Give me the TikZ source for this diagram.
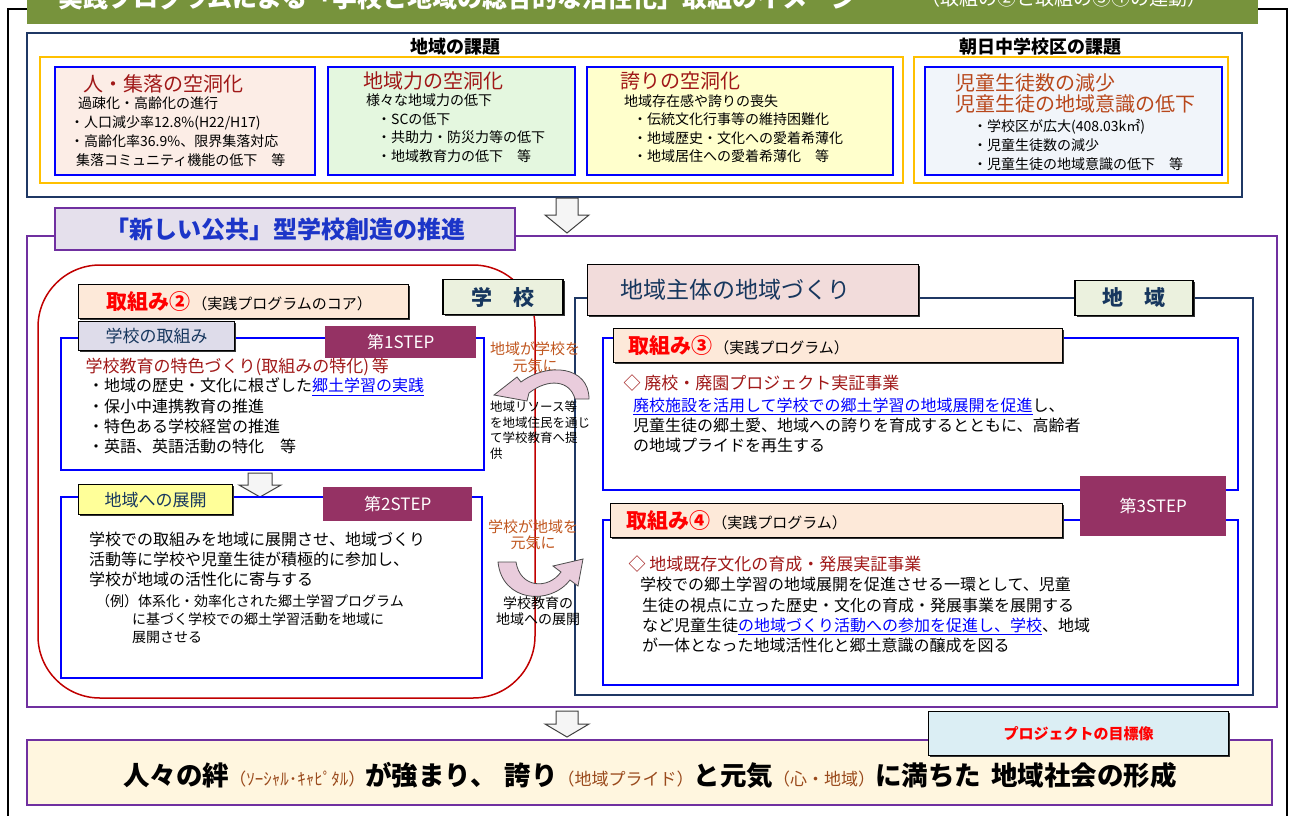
\documentclass[tikz,border=0pt]{standalone}
\usepackage{fontspec}
\setmainfont{Noto Sans CJK JP}
\usetikzlibrary{shadows}

\definecolor{olivegreen}{HTML}{77933C}
\definecolor{navyline}{HTML}{1F3864}
\definecolor{goldline}{HTML}{FFC000}
\definecolor{pinkbg}{HTML}{FCEDE6}
\definecolor{mintbg}{HTML}{E4F7DF}
\definecolor{creambg}{HTML}{FFFFCC}
\definecolor{icebg}{HTML}{F1F5FA}
\definecolor{kadaired}{HTML}{A01818}
\definecolor{kadaibrown}{HTML}{B8471B}
\definecolor{suishinpurple}{HTML}{7030A0}
\definecolor{lavbg}{HTML}{E5E0EC}
\definecolor{lavtab}{HTML}{DEDCEA}
\definecolor{suishinblue}{HTML}{1C35C8}
\definecolor{roundred}{HTML}{C00000}
\definecolor{peachbg}{HTML}{FDE9D9}
\definecolor{sagebg}{HTML}{EBF1DE}
\definecolor{tabnavy}{HTML}{17375E}
\definecolor{yellowtab}{HTML}{FFFF99}
\definecolor{stepmaroon}{HTML}{953264}
\definecolor{genkibrown}{HTML}{C0561E}
\definecolor{rosebg}{HTML}{F2DCDB}
\definecolor{skybg}{HTML}{DBEEF4}
\definecolor{goalbg}{HTML}{FFF6DF}
\definecolor{goalbrown}{HTML}{9A4A1C}
\definecolor{arrowpink}{HTML}{E9CCDC}
\definecolor{linkblue}{HTML}{0000FF}

\newcommand{\kumititle}[1]{{\color{red}\bfseries\fontsize{21}{21}\selectfont #1}}
\newcommand{\ulink}[1]{{\color{linkblue}\underline{#1}}}
\newcommand{\goalnote}[1]{{\mdseries\color{goalbrown}\fontsize{17}{17}\selectfont #1}}
\newcommand{\blkarrow}[6]{%
  \filldraw[fill=gray!8, draw=black!75, line width=1pt]
    (#1-#5,#2) -- (#1+#5,#2) -- (#1+#5,#3) -- (#1+#6,#3) -- (#1,#4)
    -- (#1-#6,#3) -- (#1-#5,#3) -- cycle;}

\tikzset{
  kadaibox/.style={draw=blue, line width=1.6pt},
  kadaititle/.style={anchor=west, text=kadaired, font=\fontsize{20}{20}\selectfont},
  kadaitext/.style={anchor=north west, align=left, inner sep=0pt},
  tabbox/.style={draw=black, line width=1.2pt, inner sep=0pt,
    drop shadow={shadow xshift=1.5pt, shadow yshift=-1.5pt, fill=black!80, opacity=1}},
  stepbox/.style={fill=stepmaroon, text=white, inner sep=0pt, font=\fontsize{17}{17}\selectfont},
  genkitext/.style={text=genkibrown, font=\fontsize{15}{15}\selectfont},
  bluebox/.style={draw=blue, line width=1.6pt, fill=white}
}

\begin{document}
\begin{tikzpicture}[x=1pt,y=-1pt]
\useasboundingbox (0,0) rectangle (1290,816);
\clip (0,0) rectangle (1290,816);

\draw[line width=1.2pt] (8,820) -- (8,9) -- (30,9);
\draw[line width=1.2pt] (1255,9) -- (1287,9) -- (1287,820);
\fill[olivegreen] (27,-10) rectangle (1258,24);
\node[anchor=base west, text=white, font=\bfseries\fontsize{25}{25}\selectfont] (title)
  at (55,8) {実践プログラムによる「学校と地域の総合的な活性化」取組のイメージ};
\node[anchor=base west, text=white, font=\fontsize{19}{19}\selectfont] (subtitle)
  at (918,6) {（取組の②と取組の③④の連動）};

\draw[navyline, line width=2pt] (27,33) rectangle (1242,197);
\draw[goldline, line width=1.6pt] (40,57) rectangle (903,183);
\node[font=\bfseries\fontsize{18}{18}\selectfont] (chiikiKadai) at (455,47) {地域の課題};

\filldraw[kadaibox, fill=pinkbg] (55,67) rectangle (315,175);
\node[kadaititle] (hito) at (80,84) {人・集落の空洞化};
\node[kadaitext, font=\fontsize{14}{19}\selectfont] (hitoText) at (70,97)
  {\hspace*{8pt}過疎化・高齢化の進行\\・人口減少率12.8\%(H22/H17)\\・高齢化率36.9\%、限界集落対応\\\hspace*{6pt}集落コミュニティ機能の低下　等};

\filldraw[kadaibox, fill=mintbg] (328,67) rectangle (575,175);
\node[kadaititle] (chiikiryoku) at (360,81) {地域力の空洞化};
\node[kadaitext, font=\fontsize{14}{18.5}\selectfont] (chiikiryokuText) at (366,94)
  {様々な地域力の低下\\\hspace*{11pt}・SCの低下\\\hspace*{11pt}・共助力・防災力等の低下\\\hspace*{11pt}・地域教育力の低下　等};

\filldraw[kadaibox, fill=creambg] (587,67) rectangle (893,175);
\node[kadaititle] (hokori) at (617,81) {誇りの空洞化};
\node[kadaitext, font=\fontsize{14}{18.5}\selectfont] (hokoriText) at (624,94)
  {地域存在感や誇りの喪失\\\hspace*{9pt}・伝統文化行事等の維持困難化\\\hspace*{9pt}・地域歴史・文化への愛着希薄化\\\hspace*{9pt}・地域居住への愛着希薄化　等};

\draw[goldline, line width=1.6pt] (914,57) rectangle (1228,183);
\node[font=\bfseries\fontsize{18}{18}\selectfont] (asahiKadai) at (1040,47) {朝日中学校区の課題};
\filldraw[kadaibox, fill=icebg] (925,67) rectangle (1222,175);
\node[kadaitext, text=kadaibrown, font=\fontsize{20}{21}\selectfont] (jidou) at (955,73)
  {児童生徒数の減少\\児童生徒の地域意識の低下};
\node[kadaitext, font=\fontsize{14}{19}\selectfont] (jidouText) at (973,119)
  {・学校区が広大(408.03k㎡)\\・児童生徒数の減少\\・児童生徒の地域意識の低下　等};

\blkarrow{567}{198}{215}{233}{11}{22}

\draw[suishinpurple, line width=1.6pt] (27,236) rectangle (1277,707);
\node[draw=suishinpurple, fill=lavbg, line width=1.6pt, minimum width=460, minimum height=42,
  text=suishinblue, font=\bfseries\fontsize{24}{24}\selectfont] (koukyou) at (285,229)
  {「新しい公共」型学校創造の推進};

\draw[roundred, line width=1.5pt, rounded corners=62pt] (38,265) rectangle (535,698);
\node[tabbox, fill=sagebg, minimum width=120, minimum height=35, text=tabnavy,
  font=\bfseries\fontsize{21}{21}\selectfont] (gakkou) at (503,297) {学　校};
\node[tabbox, fill=peachbg, anchor=north west, minimum height=34, text width=274,
  inner xsep=28pt, align=left] (kumi2) at (78,284)
  {\kumititle{取組み②}\,{\fontsize{15}{15}\selectfont（実践プログラムのコア）}};

\draw[bluebox] (61,338) rectangle (484,470);
\node[tabbox, fill=lavtab, anchor=north west, minimum width=156, minimum height=29,
  text=tabnavy, font=\fontsize{17}{17}\selectfont] (gakkouKumi) at (78,321) {学校の取組み};
\node[stepbox, anchor=north west, minimum width=151, minimum height=32] (step1) at (325,326) {第1STEP};
\node[anchor=west, text=kadaired, font=\fontsize{17}{17}\selectfont] (tokushoku) at (82,367)
  {学校教育の特色づくり(取組みの特化)\,等};
\node[kadaitext, font=\fontsize{16}{20.3}\selectfont] (gakkouText) at (88,378)
  {・地域の歴史・文化に根ざした\ulink{郷土学習の実践}\\・保小中連携教育の推進\\・特色ある学校経営の推進\\・英語、英語活動の特化　等};

\blkarrow{260}{473}{485}{497}{12}{21}

\draw[bluebox] (61,497) rectangle (482,678);
\node[tabbox, fill=yellowtab, anchor=north west, minimum width=154, minimum height=30,
  text=tabnavy, font=\fontsize{17}{17}\selectfont] (tenkai) at (78,484) {地域への展開};
\node[stepbox, anchor=north west, minimum width=149, minimum height=34] (step2) at (323,487) {第2STEP};
\node[kadaitext, font=\fontsize{16}{20}\selectfont] (tenkaiText) at (89,532)
  {学校での取組みを地域に展開させ、地域づくり\\活動等に学校や児童生徒が積極的に参加し、\\学校が地域の活性化に寄与する};
\node[kadaitext, font=\fontsize{14}{18}\selectfont] (reiText) at (96,594)
  {（例）体系化・効率化された郷土学習プログラム\\\hspace*{36pt}に基づく学校での郷土学習活動を地域に\\\hspace*{36pt}展開させる};

\draw[navyline, line width=1.6pt] (575,298) rectangle (1253,695);
\node[tabbox, fill=rosebg, anchor=north west, minimum height=51, text width=265,
  inner xsep=33pt, align=left, text=tabnavy, font=\fontsize{23}{23}\selectfont] (shutai)
  at (587,264) {地域主体の地域づくり};
\node[tabbox, fill=sagebg, minimum width=118, minimum height=35, text=tabnavy,
  font=\bfseries\fontsize{21}{21}\selectfont] (chiiki) at (1134,298) {地　域};

\node[genkitext] (genki1) at (535,349) {地域が学校を};
\node[genkitext] (genki1b) at (535,366) {元気に};
\filldraw[fill=arrowpink, draw=black!70, line width=0.8pt]
  (589,399) .. controls (589,366) and (548,362) .. (521,382) -- (517,377) -- (494,395)
  -- (527,401) -- (529,393) .. controls (548,378) and (570,380) .. (575,399) -- cycle;
\node[kadaitext, font=\fontsize{12.5}{15.5}\selectfont] (resource) at (490,401)
  {地域リソース等\\を地域住民を通じ\\て学校教育へ提\\供};

\node[genkitext] (genki2) at (533,527) {学校が地域を};
\node[genkitext] (genki2b) at (533,543) {元気に};
\filldraw[fill=arrowpink, draw=black!70, line width=0.8pt]
  (498,562) .. controls (502,602) and (550,606) .. (570,580) -- (578,586) -- (583,559)
  -- (553,566) -- (561,572) .. controls (548,590) and (520,588) .. (516,562) -- cycle;
\node[align=center, font=\fontsize{14}{15.5}\selectfont] (tenkaiMid) at (538,611)
  {学校教育の\\地域への展開};

\draw[bluebox] (603,338) rectangle (1238,490);
\node[tabbox, fill=peachbg, anchor=north west, minimum height=34, text width=419,
  inner xsep=15pt, align=left] (kumi3) at (613,328)
  {\kumititle{取組み③}\,{\fontsize{15}{15}\selectfont（実践プログラム）}};
\node[anchor=west, text=kadaired, font=\fontsize{17}{17}\selectfont] (haikou) at (620,383)
  {◇ 廃校・廃園プロジェクト実証事業};
\node[kadaitext, font=\fontsize{16}{20}\selectfont] (haikouText) at (633,398)
  {\ulink{廃校施設を活用して学校での郷土学習の地域展開を促進}し、\\児童生徒の郷土愛、地域への誇りを育成するとともに、高齢者\\の地域プライドを再生する};

\draw[bluebox] (603,520) rectangle (1238,685);
\node[stepbox, anchor=north west, minimum width=146, minimum height=60] (step3) at (1080,476) {第3STEP};
\node[tabbox, fill=peachbg, anchor=north west, minimum height=34, text width=420,
  inner xsep=16pt, align=left] (kumi4) at (610,503)
  {\kumititle{取組み④}\,{\fontsize{15}{15}\selectfont（実践プログラム）}};
\node[anchor=west, text=kadaired, font=\fontsize{17}{17}\selectfont] (kison) at (625,564)
  {◇ 地域既存文化の育成・発展実証事業};
\node[kadaitext, font=\fontsize{16}{20.3}\selectfont] (kisonText) at (640,577)
  {学校での郷土学習の地域展開を促進させる一環として、児童\\\hspace*{2pt}生徒の視点に立った歴史・文化の育成・発展事業を展開する\\\hspace*{2pt}など児童生徒\ulink{の地域づくり活動への参加を促進し、学校}、地域\\\hspace*{2pt}が一体となった地域活性化と郷土意識の醸成を図る};

\blkarrow{567}{711}{724}{737}{11}{22}

\filldraw[fill=goalbg, draw=suishinpurple, line width=2.5pt] (27,740) rectangle (1272,805);
\node[tabbox, fill=skybg, anchor=north west, minimum width=300, minimum height=44, text=red,
  font=\bfseries\fontsize{15}{15}\selectfont] (mokuhyou) at (928,711) {プロジェクトの目標像};
\node[font=\bfseries\fontsize{26.5}{26.5}\selectfont] (goalText) at (650,775)
  {人々の絆\goalnote{（ｿｰｼｬﾙ･ｷｬﾋﾟﾀﾙ）}が強まり、\hspace{8pt}誇り\goalnote{（地域プライド）}と元気\goalnote{（心・地域）}に満ちた\hspace{10pt}地域社会の形成};
\end{tikzpicture}
\end{document}
